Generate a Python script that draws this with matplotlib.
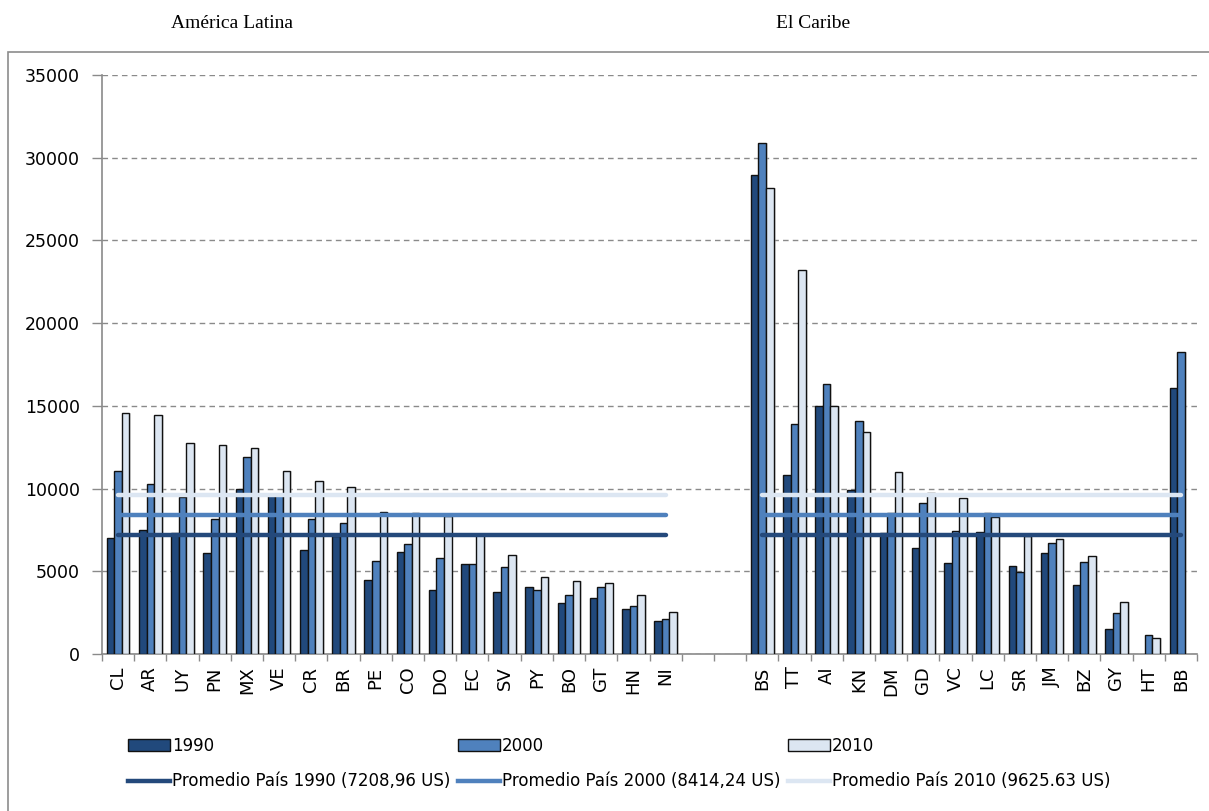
import numpy as np
import matplotlib
matplotlib.use('Agg')
import matplotlib.pyplot as plt
from matplotlib.patches import Patch, Rectangle
from matplotlib.lines import Line2D

# paises (America Latina y El Caribe)
paises_latina = ['CL', 'AR', 'UY', 'PN', 'MX', 'VE', 'CR', 'BR', 'PE', 'CO',
                 'DO', 'EC', 'SV', 'PY', 'BO', 'GT', 'HN', 'NI']
paises_caribe = ['BS', 'TT', 'AI', 'KN', 'DM', 'GD', 'VC', 'LC', 'SR', 'JM',
                 'BZ', 'GY', 'HT', 'BB']

latina_1990 = [7030, 7470, 7330, 6080, 10000, 9600, 6260, 7150, 4480, 6160,
               3840, 5430, 3760, 4020, 3090, 3370, 2710, 1980]
latina_2000 = [11050, 10280, 9500, 8140, 11880, 9600, 8140, 7940, 5620, 6630,
               5800, 5430, 5230, 3840, 3560, 4020, 2890, 2140]
latina_2010 = [14580, 14420, 12730, 12650, 12440, 11050, 10480, 10100, 8600, 8550,
               8350, 7190, 6000, 4670, 4400, 4300, 3560, 2550]

caribe_1990 = [28980, 10820, 14980, 9900, 7300, 6430, 5480, 7370, 5290, 6120,
               4160, 1540, np.nan, 16060]
caribe_2000 = [30900, 13910, 16350, 14100, 8550, 9140, 7440, 8550, 4940, 6710,
               5570, 2480, 1160, 18240]
caribe_2010 = [28160, 23200, 14980, 13440, 11030, 9730, 9450, 8270, 7130, 6940,
               5950, 3140, 990, np.nan]

promedios = [7208.96, 8414.24, 9625.63]
anios = ['1990', '2000', '2010']
etiquetas_prom = ['Promedio País 1990 (7208,96 US)',
                  'Promedio País 2000 (8414,24 US)',
                  'Promedio País 2010 (9625.63 US)']

col_barras = ['#21497C', '#4F81BD', '#DCE6F2']
col_lineas = ['#24497B', '#4F81BD', '#DCE6F2']

fig = plt.figure(figsize=(12.09, 8.11), dpi=100)
ax = fig.add_axes([102 / 1209, 1 - 654 / 811, (1197 - 102) / 1209, (654 - 75) / 811])

# marco exterior del grafico
fig.patches.append(Rectangle((8 / 1209, -0.05), 1.1, 1 - 52 / 811 + 0.05,
                             transform=fig.transFigure, fill=False,
                             edgecolor='#8c8c8c', linewidth=1.2, zorder=0))

n_lat = len(paises_latina)
x_lat = np.arange(n_lat) + 0.5
x_car = np.arange(len(paises_caribe)) + n_lat + 2.5
w = 0.235

series_lat = [latina_1990, latina_2000, latina_2010]
series_car = [caribe_1990, caribe_2000, caribe_2010]

for i in range(3):
    off = (i - 1) * w
    for xs, vals in [(x_lat, series_lat[i]), (x_car, series_car[i])]:
        vals = np.array(vals, dtype=float)
        # sombra suave tipo excel
        ax.bar(xs + off + 0.06, vals, width=w, color='#bdbdbd', alpha=0.45,
               linewidth=0, zorder=2)
        ax.bar(xs + off, vals, width=w, color=col_barras[i], edgecolor='#111111',
               linewidth=1.0, zorder=3)

for i in range(3):
    for xs in [x_lat, x_car]:
        ax.hlines(promedios[i], xs[0], xs[-1], color=col_lineas[i], linewidth=3.2,
                  zorder=5, capstyle='round')

ax.set_xlim(0, n_lat + 2 + len(paises_caribe))
ax.set_ylim(0, 35000)
ax.set_yticks(np.arange(0, 35001, 5000))
ax.yaxis.grid(True, linestyle=(0, (4, 3)), color='#8a8a8a', linewidth=1.0)
ax.set_axisbelow(True)

ax.set_xticks(np.arange(0, n_lat + 2 + len(paises_caribe) + 1))
ax.set_xticklabels([])
ax.set_xticks(np.concatenate([x_lat, x_car]), minor=True)
ax.set_xticklabels(paises_latina + paises_caribe, minor=True, rotation=90,
                   fontsize=13)
ax.tick_params(axis='x', which='major', length=5, color='#8a8a8a', width=1)
ax.tick_params(axis='x', which='minor', length=0, pad=9)
ax.tick_params(axis='y', length=7, color='#8a8a8a', width=1, labelsize=12.5, pad=9)

for s in ['top', 'right']:
    ax.spines[s].set_visible(False)
for s in ['left', 'bottom']:
    ax.spines[s].set_color('#8a8a8a')
    ax.spines[s].set_linewidth(1.2)

fig.text(232 / 1209, 1 - 23 / 811, 'América Latina', ha='center', va='center',
         family='Liberation Serif', fontsize=14)
fig.text(813 / 1209, 1 - 23 / 811, 'El Caribe', ha='center', va='center',
         family='Liberation Serif', fontsize=14)

# leyenda en tres columnas
xs_ley = [128, 458, 788]
for i in range(3):
    handles = [Patch(facecolor=col_barras[i], edgecolor='#111111', linewidth=1.0),
               Line2D([0], [0], color=col_lineas[i], linewidth=3.2)]
    leg = fig.legend(handles, [anios[i], etiquetas_prom[i]], loc='upper left',
                     bbox_to_anchor=(xs_ley[i] / 1209, 1 - 737 / 811),
                     frameon=False, fontsize=12, handlelength=2.5, handleheight=0.75,
                     handletextpad=0.12, labelspacing=1.05, borderpad=0,
                     borderaxespad=0)

fig.savefig('out.png', dpi=100)
